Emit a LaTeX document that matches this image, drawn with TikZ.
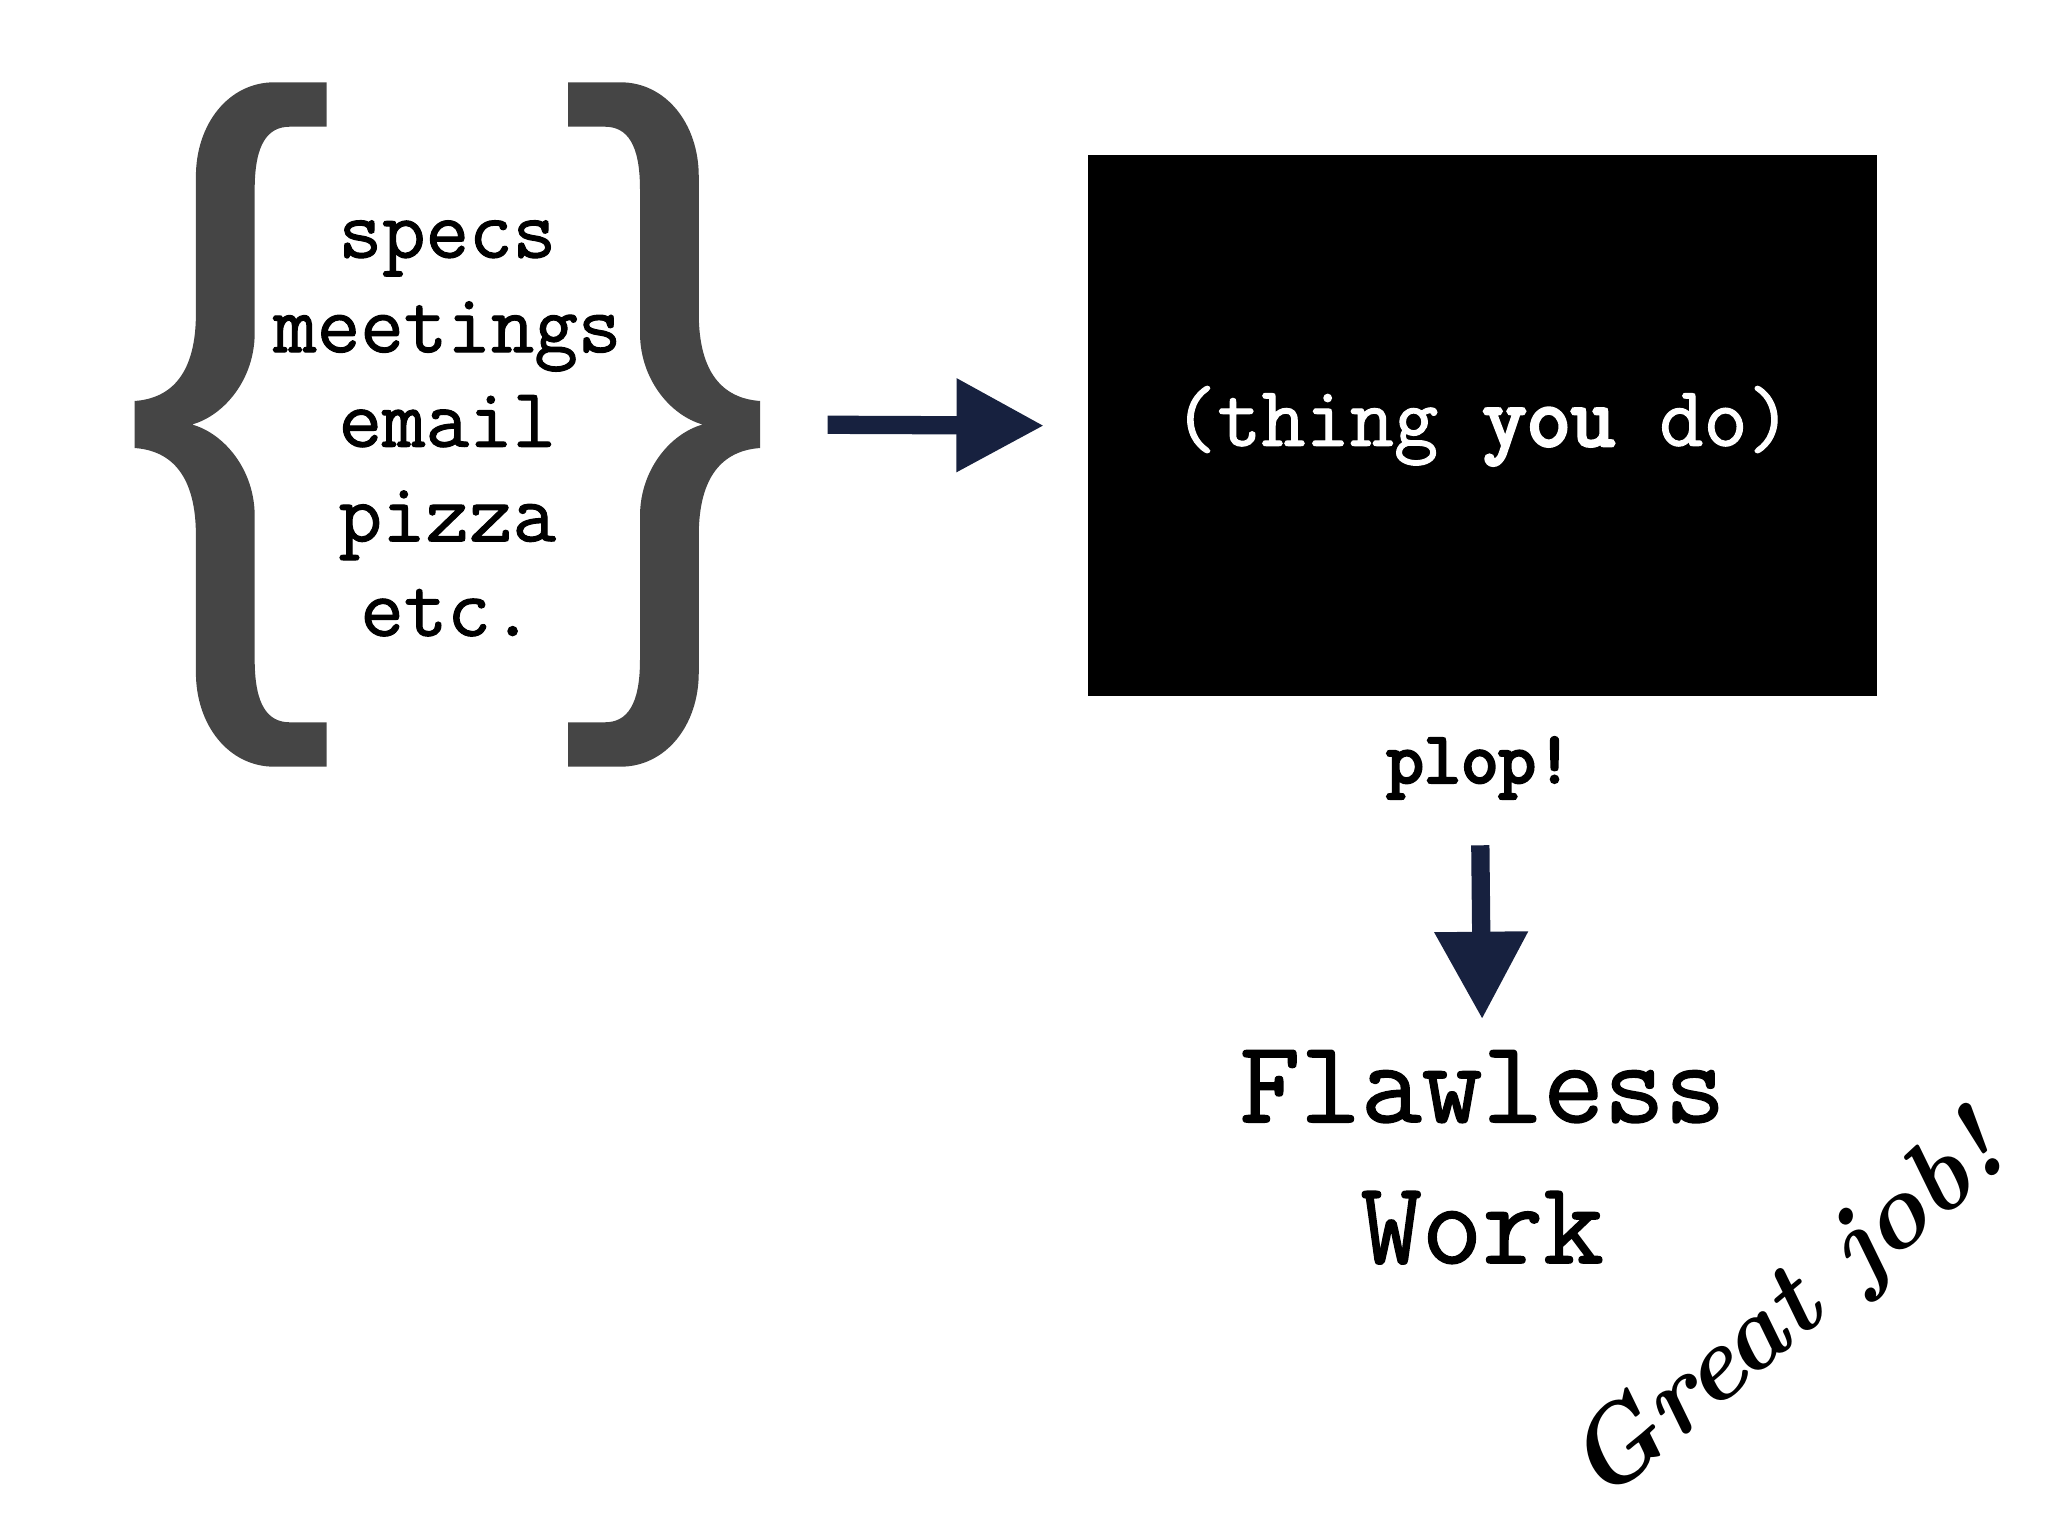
\documentclass[tikz,border=0pt]{standalone}
\usepackage{fontspec}
\usetikzlibrary{positioning,arrows.meta}
\newfontfamily\typefont{Latin Modern Mono}[FakeBold=1.2]
\newfontfamily\heavyfont{Latin Modern Mono}[FakeBold=4]
\definecolor{bracegray}{HTML}{454545}
\definecolor{navy}{HTML}{17213F}
\tikzset{
  listtext/.style={font=\typefont\fontsize{18.4}{20.6}\selectfont, align=center, inner sep=0pt},
  blackbox/.style={fill=black, text=white, minimum width=60.4mm, minimum height=41.4mm, inner sep=0pt,
    font=\typefont\fontsize{18.7}{22}\selectfont},
  plopword/.style={font=\heavyfont\fontsize{15.8}{18}\selectfont, inner sep=0pt},
  resulttext/.style={font=\typefont\fontsize{25.7}{30.7}\selectfont, align=center, inner sep=0pt},
  cheer/.style={font=\bfseries\itshape\fontsize{23}{26}\selectfont, inner sep=0pt},
  fatarrow/.style={navy, line width=1.4mm, -{Triangle[length=6.7mm,width=6.8mm]}},
  curly/.pic={
    \fill[bracegray] (250,63) -- (210,63) .. controls (175,63) and (150,95) .. (150,135)
      -- (150,240) .. controls (150,285) and (132,305) .. (103,307)
      -- (103,343) .. controls (132,345) and (150,365) .. (150,410)
      -- (150,515) .. controls (150,555) and (175,587) .. (210,587)
      -- (250,587) -- (250,553) -- (222,553) .. controls (205,553) and (195,540) .. (195,505)
      -- (195,395) .. controls (195,360) and (172,332) .. (147,325)
      .. controls (172,318) and (195,290) .. (195,255)
      -- (195,145) .. controls (195,110) and (205,97) .. (222,97) -- (250,97) -- cycle;
  },
}
\begin{document}
\begin{tikzpicture}[x=0.1mm, y=-0.1mm]
  \useasboundingbox (0,0) rectangle (1568,1176);
  % the two braces round the list
  \pic at (0,0) {curly};
  \pic[xscale=-1] at (685,0) {curly};
  \node[minimum width=47.9mm, minimum height=52.4mm, inner sep=0pt] (braces) at (342.5,325) {};
  \node[listtext] (inputs) at (342.5,328) {specs\\meetings\\email\\pizza\\etc.};
  \node[blackbox] (box) at (1135,326) {(thing {\heavyfont you} do)};
  \node[plopword] (plop) at (1133,588) {plop!};
  \node[resulttext] (result) at (1135,886) {Flawless\\Work};
  \node[cheer, rotate=40] (great) at (1370,1005) {Great job!};
  \draw[fatarrow, shorten <=5.1mm, shorten >=3.3mm] (braces.east) -- (box.west);
  \draw[fatarrow, shorten <=3.5mm, shorten >=2.3mm] (plop.south) -- (result.north);
\end{tikzpicture}
\end{document}
